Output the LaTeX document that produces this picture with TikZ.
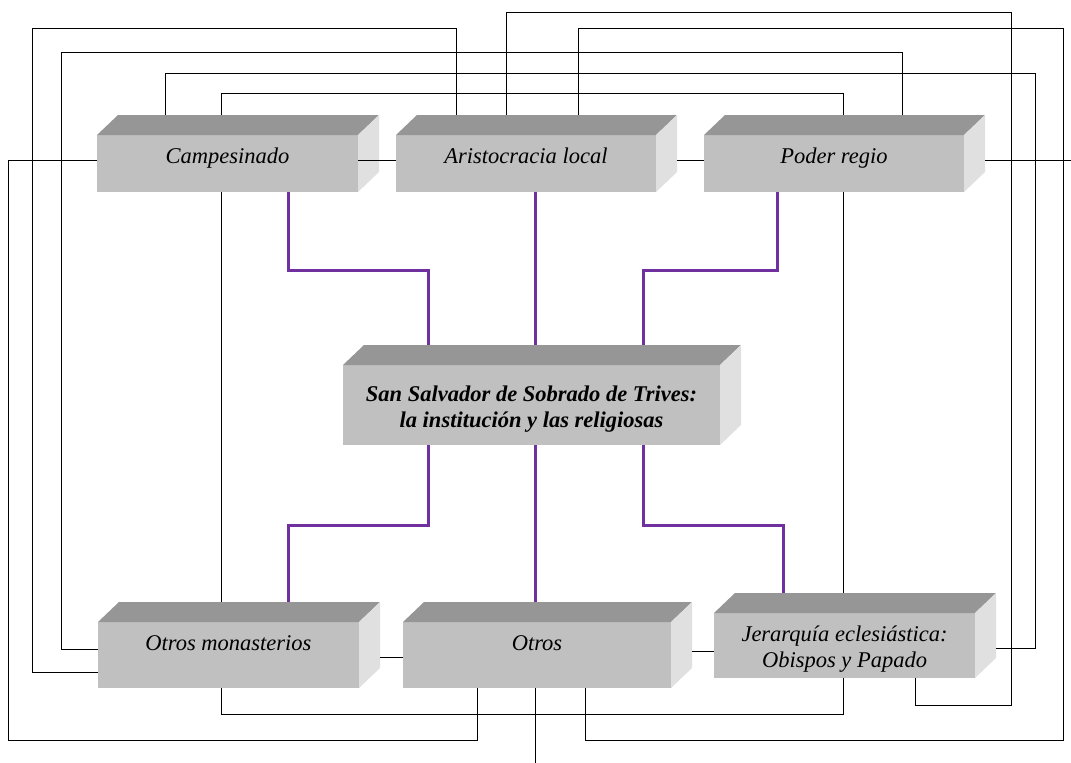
\documentclass[tikz,border=0pt]{standalone}
\usepackage{fontspec}
\setmainfont{Liberation Serif}
\usetikzlibrary{calc}
\definecolor{topc}{HTML}{969696}
\definecolor{frontc}{HTML}{C0C0C0}
\definecolor{sidec}{HTML}{E0E0E0}
\definecolor{purp}{HTML}{7030A0}
\tikzset{
  box/.style={fill=frontc, inner sep=0pt, outer sep=0pt, anchor=north west, align=center,
     font=\fontsize{22.5}{26}\selectfont\itshape},
  link/.style={draw=black, line width=0.8pt},
  plink/.style={draw=purp, line width=3pt},
}
\begin{document}
\begin{tikzpicture}[x=1pt,y=-1pt]
\useasboundingbox (0,0) rectangle (1071,763);
% boxes (front faces)
\node[box, minimum width=261pt, minimum height=57pt, text height=8pt, text depth=8pt] (camp) at (97,135) {Campesinado};
\node[box, minimum width=260pt, minimum height=57pt, text height=8pt, text depth=8pt] (arist) at (396,135) {Aristocracia local};
\node[box, minimum width=260pt, minimum height=57pt, text height=8pt, text depth=8pt] (poder) at (704,135) {Poder regio};
\node[box, minimum width=377pt, minimum height=80pt, font=\fontsize{22.5}{26}\selectfont\bfseries\itshape] (center) at (343,365) {\rule{0pt}{23pt}San Salvador de Sobrado de Trives:\\la institución y las religiosas};
\node[box, minimum width=261pt, minimum height=66pt, text height=4pt, text depth=14pt] (omon) at (98,622) {Otros monasterios};
\node[box, minimum width=268pt, minimum height=66pt, text height=4pt, text depth=14pt] (otros) at (403,622) {Otros};
\node[box, minimum width=261pt, minimum height=65pt] (jer) at (714,613) {\rule{0pt}{23pt}Jerarquía eclesiástica:\\Obispos y Papado};
% top and side faces
\foreach \n in {camp,arist,poder,center,omon,otros,jer}{
  \fill[topc] (\n.north west) -- ++(21,-20) -- ($(\n.north east)+(21,-20)$) -- (\n.north east) -- cycle;
  \fill[sidec] (\n.north east) -- ++(21,-20) -- ($(\n.south east)+(21,-20)$) -- (\n.south east) -- cycle;
  \coordinate (top\n) at ($(\n.north)+(0,-20)$);
  \coordinate (side\n) at ($(\n.east)+(21,0)$);
}
% purple connectors
\draw[plink] (camp.south -| 288,0) |- (428,270) -- (topcenter -| 428,0);
\draw[plink] (arist.south -| 535,0) -- (topcenter -| 535,0);
\draw[plink] (poder.south -| 777,0) |- (643,270) -- (topcenter -| 643,0);
\draw[plink] (center.south -| 428,0) |- (288,525) -- (topomon -| 288,0);
\draw[plink] (center.south -| 535,0) -- (topotros -| 535,0);
\draw[plink] (center.south -| 643,0) |- (783,525) -- (topjer -| 783,0);
% black connectors
\draw[link] (toparist -| 456,0) |- (32,28) |- (omon.west |- 0,672);
\draw[link] (toppoder -| 902,0) |- (61,52) |- (omon.west |- 0,649);
\draw[link] (topcamp -| 165,0) |- (1035,73) |- (sidejer |- 0,648);
\draw[link] (topcamp -| 221,0) |- (843,93) -- (toppoder -| 843,0);
\draw[link] (toparist -| 506,0) |- (1011,12) |- (915,705) -- (jer.south -| 915,0);
\draw[link] (toparist -| 578,0) |- (1063,28) |- (585,740) -- (otros.south -| 585,0);
\draw[link] (camp.west |- 0,160) -| (8,740) -| (otros.south -| 477,0);
\draw[link] (camp.south -| 221,0) -- (topomon -| 221,0);
\draw[link] (poder.south -| 843,0) -- (topjer -| 843,0);
\draw[link] (omon.south -| 221,0) |- (843,714) -- (jer.south -| 843,0);
\draw[link] (camp.east |- 0,160) -- (arist.west |- 0,160);
\draw[link] (sidearist |- 0,160) -- (poder.west |- 0,160);
\coordinate (exitR) at (1071,160);
\draw[link] (sidepoder |- 0,160) -- (exitR);
\draw[link] (sideomon |- 0,657) -- (otros.west |- 0,657);
\draw[link] (sideotros |- 0,651) -- (jer.west |- 0,651);
\coordinate (exitB) at (535,763);
\draw[link] (otros.south -| 535,0) -- (exitB);
\end{tikzpicture}
\end{document}
